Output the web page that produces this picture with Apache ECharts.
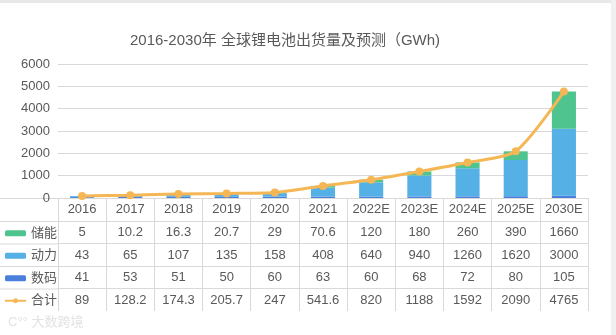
<!DOCTYPE html>
<html><head><meta charset="utf-8">
<script src="https://cdn.jsdelivr.net/npm/echarts@6/dist/echarts.min.js"></script>
<style>html,body{margin:0;padding:0;background:#fff}#c{width:616px;height:335px}</style>
</head><body><div id="c"></div>
<script>
const years = ['2016','2017','2018','2019','2020','2021','2022E','2023E','2024E','2025E','2030E'];
const storage = [5, 10.2, 16.3, 20.7, 29, 70.6, 120, 180, 260, 390, 1660];
const power = [43, 65, 107, 135, 158, 408, 640, 940, 1260, 1620, 3000];
const digital = [41, 53, 51, 50, 60, 63, 60, 68, 72, 80, 105];
const total = [89, 128.2, 174.3, 205.7, 247, 541.6, 820, 1188, 1592, 2090, 4765];
const yTicks = {min: 0, max: 6000, interval: 1000};

const FONT = '"Liberation Sans","Noto Sans CJK SC",sans-serif';
const TXT = '#595959';
const LINE = '#d9d9d9';
const C_STORAGE = '#50c48e', C_POWER = '#55b0e5', C_DIGITAL = '#4b7fdc', C_TOTAL = '#f5b755';

const rows = [storage, power, digital, total];
const rowStep = 22.5;
const rowOffsets = rows.map((r, i) => 23 + i * rowStep);

const chart = echarts.init(document.getElementById('c'));

const xAxes = [{
  type: 'category', data: years, gridIndex: 0, position: 'bottom',
  axisLine: {show: true, lineStyle: {color: LINE, width: 1}},
  axisTick: {show: true, length: 113, lineStyle: {color: LINE}},
  axisLabel: {color: TXT, fontSize: 13, fontFamily: FONT, margin: 5, interval: 0}
}];
rows.forEach((r, k) => {
  xAxes.push({
    type: 'category', data: years, gridIndex: 0, position: 'bottom', offset: rowOffsets[k],
    axisLine: {show: true, lineStyle: {color: LINE, width: 1}},
    axisTick: {show: false},
    axisLabel: {color: TXT, fontSize: 13, fontFamily: FONT, margin: 5, interval: 0,
      formatter: (v, i) => String(r[i])}
  });
});

const graphics = [];
[0].concat(rowOffsets).forEach(o => {
  graphics.push({type: 'line', shape: {x1: 0, y1: 198 + o + 0.5, x2: 58, y2: 198 + o + 0.5}, style: {stroke: LINE, lineWidth: 1}, silent: true});
});
graphics.push({type: 'rect', shape: {x: 0, y: 0, width: 616, height: 3}, style: {fill: '#e8e8e8'}, silent: true});
graphics.push({type: 'rect', shape: {x: 611, y: 0, width: 5, height: 335}, style: {fill: '#f0f0f0'}, silent: true});
graphics.push({type: 'text', left: 8, top: 316, style: {text: 'C°° 大数跨境', fill: '#e2e2e2', font: '13px ' + FONT}, silent: true});

chart.setOption({
  animation: false,
  backgroundColor: '#fff',
  title: {
    text: '2016-2030年 全球锂电池出货量及预测（GWh)',
    left: 125, top: 28,
    textStyle: {fontSize: 15, fontWeight: 'normal', color: TXT, fontFamily: FONT}
  },
  legend: {
    orient: 'vertical', left: 4, top: 222, itemGap: 0, padding: 0,
    itemWidth: 21, itemHeight: 6,
    data: ['储能', '动力', '数码', {name: '合计'}],
    textStyle: {fontSize: 13, color: TXT, fontFamily: FONT, lineHeight: 22.5}
  },
  grid: {left: 58, right: 28, top: 64, bottom: 137},
  xAxis: xAxes,
  yAxis: {
    type: 'value', min: yTicks.min, max: yTicks.max, interval: yTicks.interval,
    axisLine: {show: false}, axisTick: {show: false},
    axisLabel: {color: TXT, fontSize: 13, fontFamily: FONT, margin: 8, formatter: v => String(v)},
    splitLine: {lineStyle: {color: LINE}}
  },
  graphic: graphics,
  series: [
    {name: '数码', type: 'bar', stack: 's', data: digital, barWidth: '50%', itemStyle: {color: C_DIGITAL}},
    {name: '动力', type: 'bar', stack: 's', data: power, itemStyle: {color: C_POWER}},
    {name: '储能', type: 'bar', stack: 's', data: storage, itemStyle: {color: C_STORAGE}},
    {name: '合计', type: 'line', data: total, smooth: 0.25, symbol: 'circle', symbolSize: 8,
      lineStyle: {color: C_TOTAL, width: 3}, itemStyle: {color: C_TOTAL}, z: 5}
  ]
});
</script></body></html>
